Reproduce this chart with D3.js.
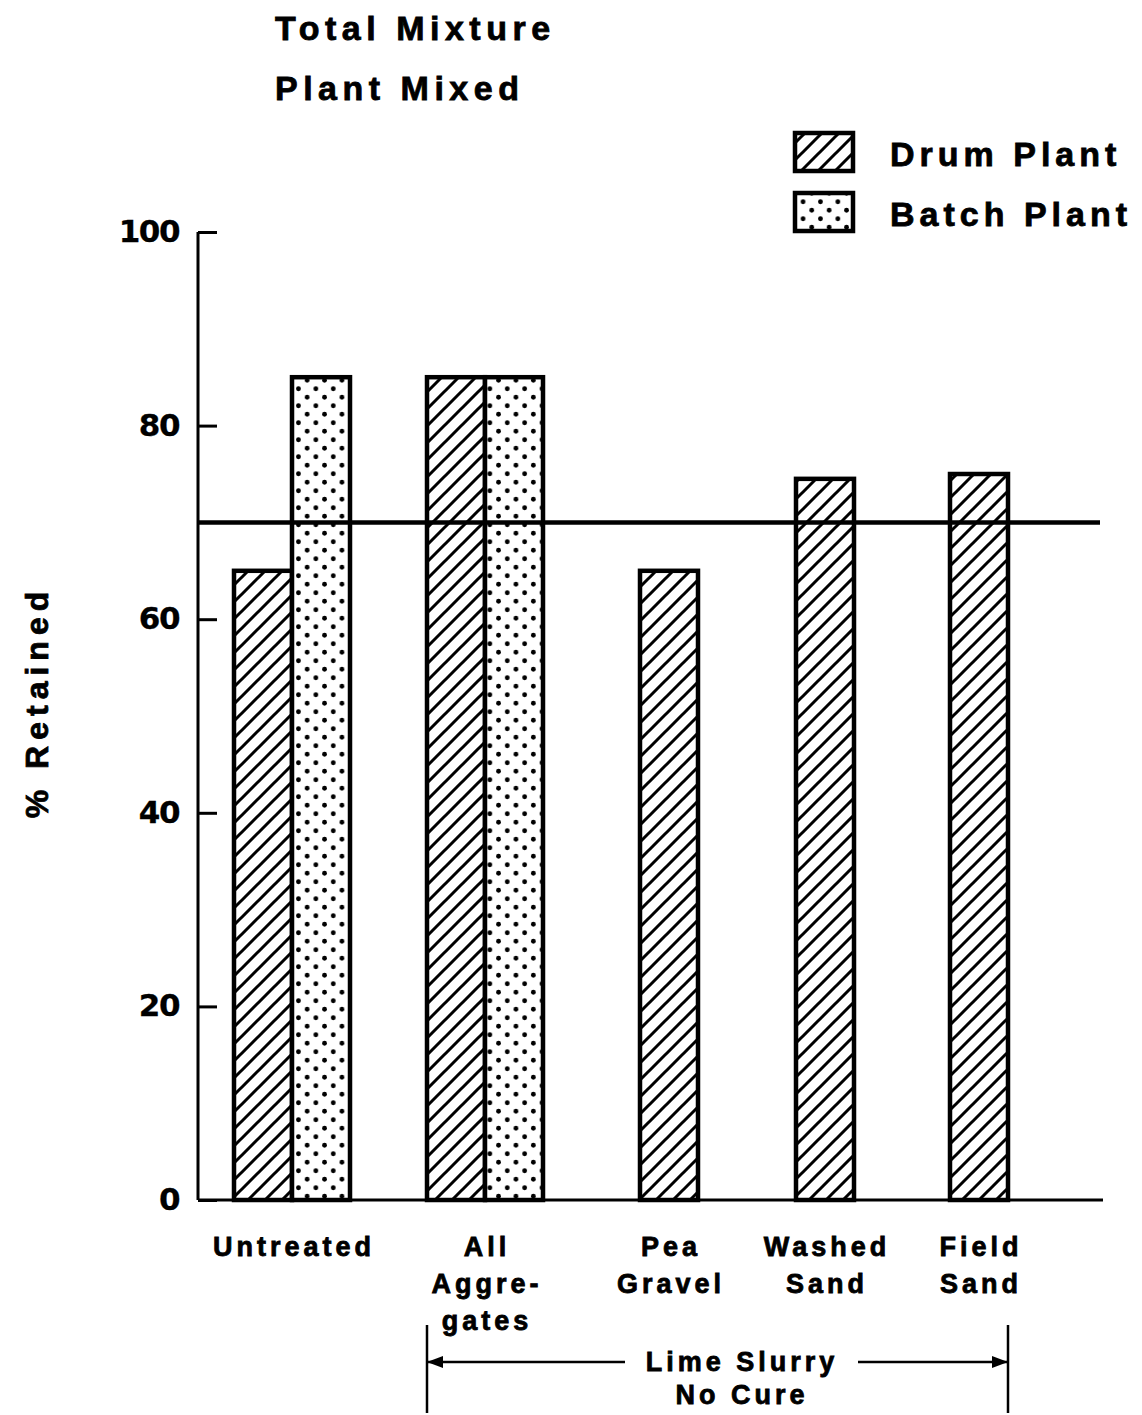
<!DOCTYPE html>
<html>
<head>
<meta charset="utf-8">
<script src="https://cdn.jsdelivr.net/npm/d3@7"></script>
<style>
  html, body { margin: 0; padding: 0; background: #fff; }
  svg { display: block; }
  text { font-family: "Liberation Sans", Arial, Helvetica, sans-serif; font-weight: bold; fill: #000; stroke: #000; stroke-width: 0.8; }
  text.tick { font-family: "DejaVu Sans", "Liberation Sans", sans-serif; stroke-width: 0.3; }
</style>
</head>
<body>
<div id="chart"></div>
<script>
// ---- data ----
const categories = ["Untreated", "All Aggregates", "Pea Gravel", "Washed Sand", "Field Sand"];
const categoryLabelLines = [["Untreated"], ["All", "Aggre-", "gates"], ["Pea", "Gravel"], ["Washed", "Sand"], ["Field", "Sand"]];
const seriesNames = ["Drum Plant", "Batch Plant"];
const drumPlant = [65, 85, 65, 74.5, 75];
const batchPlant = [85, 85, null, null, null];
const yTicks = [0, 20, 40, 60, 80, 100];
const criterion = 70;
const titleLines = ["Total Mixture", "Plant Mixed"];
const yLabel = "% Retained";
const bracketLines = ["Lime Slurry", "No Cure"];

// ---- layout ----
const W = 1142, H = 1415;
const svg = d3.select("#chart").append("svg").attr("width", W).attr("height", H);
const defs = svg.append("defs");

// hatch pattern
const P = 17;
const hatch = defs.append("pattern").attr("id", "hatch")
  .attr("patternUnits", "userSpaceOnUse").attr("width", P).attr("height", P).attr("x", 3).attr("y", 0);
hatch.append("rect").attr("width", P).attr("height", P).attr("fill", "#fff");
hatch.append("path").attr("d", `M-4,4 L4,-4 M0,${P} L${P},0 M${P - 4},${P + 4} L${P + 4},${P - 4}`)
  .attr("stroke", "#000").attr("stroke-width", 3);

// dot pattern
const dots = defs.append("pattern").attr("id", "dots")
  .attr("patternUnits", "userSpaceOnUse").attr("width", 17.4).attr("height", 17)
  .attr("x", 7).attr("y", 2);
dots.append("rect").attr("width", 17.4).attr("height", 17).attr("fill", "#fff");
dots.append("circle").attr("cx", 4.35).attr("cy", 4.25).attr("r", 2.4).attr("fill", "#000");
dots.append("circle").attr("cx", 13.05).attr("cy", 12.75).attr("r", 2.4).attr("fill", "#000");

const fills = { "Drum Plant": "url(#hatch)", "Batch Plant": "url(#dots)" };

const axisX0 = 198, axisX1 = 1103;
const y = d3.scaleLinear().domain([0, 100]).range([1200, 232]);
// group centers (uneven spacing in the original figure)
const xc = d3.scaleOrdinal().domain(categories).range([292, 485, 669, 825, 979]);
const barW = 58;

// ---- bars ----
const bars = [];
categories.forEach((c, i) => {
  const vals = [drumPlant[i], batchPlant[i]];
  const present = seriesNames.filter((s, k) => vals[k] != null);
  const inner = d3.scaleBand().domain(present).range([xc(c) - barW * present.length / 2, xc(c) + barW * present.length / 2]);
  present.forEach(s => {
    const v = vals[seriesNames.indexOf(s)];
    bars.push({ c, s, v, x: inner(s), w: inner.bandwidth() });
  });
});

svg.append("g").selectAll("rect").data(bars).join("rect")
  .attr("x", d => d.x).attr("width", d => d.w)
  .attr("y", d => y(d.v)).attr("height", d => y(0) - y(d.v))
  .attr("fill", d => fills[d.s])
  .attr("stroke", "#000").attr("stroke-width", 4.5);

// ---- y axis ----
const yAxis = d3.axisRight(y).tickValues(yTicks).tickSize(19).tickFormat("");
const gy = svg.append("g").attr("transform", `translate(${axisX0},0)`).call(yAxis);
gy.select(".domain").remove();
gy.selectAll(".tick line").attr("stroke", "#000").attr("stroke-width", 3);
svg.append("line").attr("x1", axisX0).attr("x2", axisX0).attr("y1", y(100)).attr("y2", y(0))
  .attr("stroke", "#000").attr("stroke-width", 3);
svg.append("g").selectAll("text").data(yTicks).join("text")
  .attr("class", "tick")
  .attr("x", 179).attr("y", d => y(d) + 10)
  .attr("text-anchor", "end").attr("font-size", 31).attr("letter-spacing", -1.5)
  .text(d => d);

// x baseline
svg.append("line").attr("x1", axisX0).attr("x2", axisX1).attr("y1", y(0)).attr("y2", y(0))
  .attr("stroke", "#000").attr("stroke-width", 3);

// criterion line
svg.append("line").attr("x1", axisX0).attr("x2", 1100).attr("y1", y(criterion)).attr("y2", y(criterion))
  .attr("stroke", "#000").attr("stroke-width", 4.5);

// ---- category labels ----
const lblG = svg.append("g");
categories.forEach((c, i) => {
  categoryLabelLines[i].forEach((line, j) => {
    lblG.append("text")
      .attr("x", xc(c) + 2).attr("y", 1256 + j * 37)
      .attr("text-anchor", "middle").attr("font-size", 27).attr("letter-spacing", 4)
      .text(line);
  });
});

// ---- y label ----
svg.append("text")
  .attr("transform", "translate(48,702) rotate(-90)")
  .attr("text-anchor", "middle").attr("font-size", 32).attr("letter-spacing", 6)
  .text(yLabel);

// ---- title ----
titleLines.forEach((t, i) => {
  svg.append("text").attr("x", 275).attr("y", 40 + i * 60)
    .attr("font-size", 34).attr("letter-spacing", 5.5).text(t);
});

// ---- legend ----
seriesNames.forEach((s, i) => {
  const ly = 133 + i * 60;
  svg.append("rect").attr("x", 795).attr("y", ly).attr("width", 58).attr("height", 38)
    .attr("fill", fills[s]).attr("stroke", "#000").attr("stroke-width", 4.5);
  svg.append("text").attr("x", 890).attr("y", ly + 33)
    .attr("font-size", 34).attr("letter-spacing", 5).text(s);
});

// ---- bracket annotation ----
const bx0 = xc("All Aggregates") - barW, bx1 = xc("Field Sand") + barW / 2;
const by = 1362;
const br = svg.append("g").attr("stroke", "#000");
br.append("line").attr("x1", bx0).attr("x2", bx0).attr("y1", 1325).attr("y2", 1413).attr("stroke-width", 2.5);
br.append("line").attr("x1", bx1).attr("x2", bx1).attr("y1", 1325).attr("y2", 1413).attr("stroke-width", 2.5);
br.append("line").attr("x1", bx0).attr("x2", 625).attr("y1", by).attr("y2", by).attr("stroke-width", 2.5);
br.append("line").attr("x1", 858).attr("x2", bx1).attr("y1", by).attr("y2", by).attr("stroke-width", 2.5);
br.append("path").attr("d", `M${bx0},${by} l16,-6 l0,12 Z`).attr("fill", "#000").attr("stroke", "none");
br.append("path").attr("d", `M${bx1},${by} l-16,-6 l0,12 Z`).attr("fill", "#000").attr("stroke", "none");
bracketLines.forEach((t, i) => {
  svg.append("text").attr("x", 742).attr("y", 1371 + i * 33)
    .attr("text-anchor", "middle").attr("font-size", 27).attr("letter-spacing", 4).text(t);
});
</script>
</body>
</html>
